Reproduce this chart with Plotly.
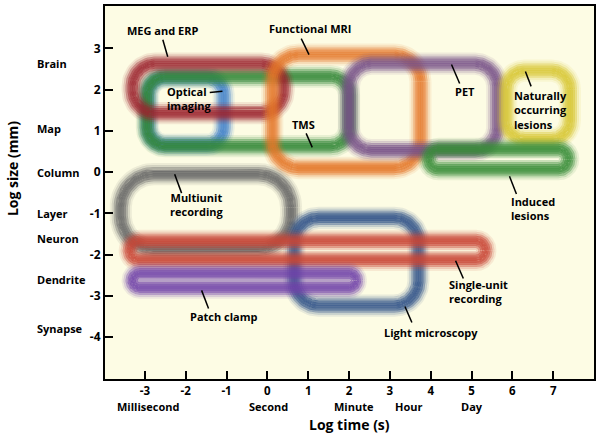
import numpy as np
import plotly.graph_objects as go

# ---------------- data ----------------
x_ticks = [-3, -2, -1, 0, 1, 2, 3, 4, 5, 6, 7]
x_tick_text = ["-3", "-2", "-1", "0", "1", "2", "3", "4", "5", "6", "7"]
y_ticks = [-4, -3, -2, -1, 0, 1, 2, 3]
y_tick_text = ["-4", "-3", "-2", "-1", "0", "1", "2", "3"]

size_names = ["Brain", "Map", "Column", "Layer", "Neuron", "Dendrite", "Synapse"]
size_pos = [2.63, 1.06, 0.0, -1.01, -1.6, -2.6, -3.8]

time_names = ["Millisecond", "Second", "Minute", "Hour", "Day"]
time_pos = [-2.93, 0.02, 2.12, 3.45, 5.0]

# method regions (log time range, log size range, corner radius)
method_names = ["Optical imaging", "TMS", "MEG and ERP", "Functional MRI", "PET",
                "Naturally occurring lesions", "Induced lesions", "Multiunit recording",
                "Light microscopy", "Single-unit recording", "Patch clamp"]
t_lo = [-2.92, -2.95, -3.30, 0.12, 2.00, 5.85, 3.95, -3.59, 0.66, -3.37, -3.30]
t_hi = [-1.07, 2.00, 0.40, 3.75, 5.63, 7.41, 7.37, 0.58, 3.70, 5.34, 2.17]
s_lo = [0.66, 0.63, 1.43, 0.10, 0.53, 0.80, 0.07, -1.86, -3.24, -2.13, -2.80]
s_hi = [2.30, 2.32, 2.63, 2.85, 2.63, 2.46, 0.56, -0.05, -1.11, -1.67, -2.46]
corner = [0.42, 0.45, 0.55, 0.65, 0.55, 0.45, 0.245, 0.80, 0.60, 0.23, 0.17]
colors = [(60, 125, 200), (50, 135, 55), (155, 35, 45), (228, 118, 40), (118, 80, 135),
          (215, 198, 50), (55, 140, 55), (100, 100, 100), (45, 80, 135), (200, 68, 52),
          (112, 65, 168)]

# method labels
lab_text = ["MEG and ERP", "Functional MRI", "Optical<br>imaging", "TMS", "PET",
            "Naturally<br>occurring<br>lesions", "Induced<br>lesions",
            "Multiunit<br>recording", "Single-unit<br>recording", "Patch clamp",
            "Light microscopy"]
lab_x = [-2.56, 1.05, -2.51, 0.88, 4.85, 5.98, 5.93, -1.72, 4.39, -1.05, 4.0]
lab_y = [3.43, 3.48, 1.775, 1.16, 1.96, 1.50, -0.88, -0.785, -2.90, -3.50, -3.89]
lab_anchor = ["center", "center", "left", "center", "center", "left", "left",
              "center", "left", "center", "center"]

# pointer lines from labels to regions
ptr_x0 = [-2.56, 0.83, -1.41, 0.95, 4.51, 6.32, 5.93, -2.27, 4.61, -1.61, 3.37]
ptr_y0 = [3.21, 3.24, 1.93, 0.94, 2.61, 2.44, -0.10, -0.05, -2.15, -2.87, -3.26]
ptr_x1 = [-2.44, 1.02, -1.10, 1.10, 4.71, 6.46, 6.10, -2.10, 4.80, -1.44, 3.54]
ptr_y1 = [2.80, 2.85, 1.96, 0.60, 2.15, 2.08, -0.53, -0.51, -2.58, -3.31, -3.65]


def rounded_rect(x0, x1, y0, y1, r, n=20):
    r = max(0.0, min(r, (x1 - x0) / 2, (y1 - y0) / 2))
    xs, ys = [], []
    for cx, cy, a0, a1 in [(x1 - r, y1 - r, 0, 90), (x0 + r, y1 - r, 90, 180),
                           (x0 + r, y0 + r, 180, 270), (x1 - r, y0 + r, 270, 360)]:
        t = np.radians(np.linspace(a0, a1, n))
        xs += list(cx + r * np.cos(t))
        ys += list(cy + r * np.sin(t))
    xs.append(xs[0])
    ys.append(ys[0])
    return xs, ys


FONT = "Open Sans"
fig = go.Figure()

# soft band: concentric outlines offset from the centre line (offset in pixels -> data)
PX = 1 / 41.2
profile = [(10, 0.10), (8, 0.25), (6, 0.50), (4, 0.72), (2, 0.84), (0, 0.88)]
for i, name in enumerate(method_names):
    r_, g_, b_ = colors[i]
    for off, a in profile:
        xs_all, ys_all = [], []
        for sgn in ([1, -1] if off else [1]):
            d = sgn * off * PX
            x0, x1 = t_lo[i] - d, t_hi[i] + d
            y0, y1 = s_lo[i] - d, s_hi[i] + d
            if x1 - x0 <= 0.02 or y1 - y0 <= 0.02:
                continue
            xs, ys = rounded_rect(x0, x1, y0, y1, corner[i] + d)
            xs_all += xs + [None]
            ys_all += ys + [None]
        fig.add_trace(go.Scatter(
            x=xs_all, y=ys_all, mode="lines", name=name, showlegend=False, hoverinfo="skip",
            line=dict(color=f"rgba({r_},{g_},{b_},{a})", width=2.3),
        ))

px_, py_ = [], []
for a, b, c, d in zip(ptr_x0, ptr_y0, ptr_x1, ptr_y1):
    px_ += [a, c, None]
    py_ += [b, d, None]
fig.add_trace(go.Scatter(x=px_, y=py_, mode="lines", showlegend=False, hoverinfo="skip",
                         line=dict(color="black", width=1.5)))

ann = []
for t, x, y, anc in zip(lab_text, lab_x, lab_y, lab_anchor):
    ann.append(dict(x=x, y=y, xref="x", yref="y", text=f"<b>{t}</b>", showarrow=False,
                    xanchor=anc, yanchor="middle", align=anc,
                    font=dict(family=FONT, size=11, color="black")))
for t, y in zip(size_names, size_pos):
    ann.append(dict(x=-0.143, y=y, xref="paper", yref="y", text=f"<b>{t}</b>", showarrow=False,
                    xanchor="left", yanchor="middle", font=dict(family=FONT, size=11, color="black")))
for t, x in zip(time_names, time_pos):
    ann.append(dict(x=x, y=-0.074, xref="x", yref="paper", text=f"<b>{t}</b>", showarrow=False,
                    xanchor="center", yanchor="middle", font=dict(family=FONT, size=11, color="black")))
ann.append(dict(x=0.5, y=-0.122, xref="paper", yref="paper", text="<b>Log time (s)</b>",
                showarrow=False, xanchor="center", yanchor="middle",
                font=dict(family=FONT, size=14, color="black")))
ann.append(dict(x=-0.19, y=0.563, xref="paper", yref="paper", text="<b>Log size (mm)</b>",
                showarrow=False, xanchor="center", yanchor="middle", textangle=-90,
                font=dict(family=FONT, size=14, color="black")))

fig.update_layout(
    width=600, height=439,
    margin=dict(l=105, r=5, t=4, b=60),
    paper_bgcolor="white", plot_bgcolor="#FDFCE4",
    annotations=ann,
    font=dict(family=FONT, color="black"),
)
fig.update_xaxes(range=[-3.976, 8.0], tickvals=x_ticks, ticktext=[f"<b>{t}</b>" for t in x_tick_text],
                 ticks="inside", ticklen=8, tickwidth=1.5, tickcolor="black",
                 showline=True, linewidth=2, linecolor="black", mirror=True,
                 showgrid=False, zeroline=False, tickfont=dict(family=FONT, size=11.5, color="black"))
fig.update_yaxes(range=[-5.02, 4.03], tickvals=y_ticks, ticktext=[f"<b>{t}</b>" for t in y_tick_text],
                 ticks="inside", ticklen=8, tickwidth=1.5, tickcolor="black",
                 showline=True, linewidth=2, linecolor="black", mirror=True,
                 showgrid=False, zeroline=False, tickfont=dict(family=FONT, size=12, color="black"))

fig.write_html("out.html")
